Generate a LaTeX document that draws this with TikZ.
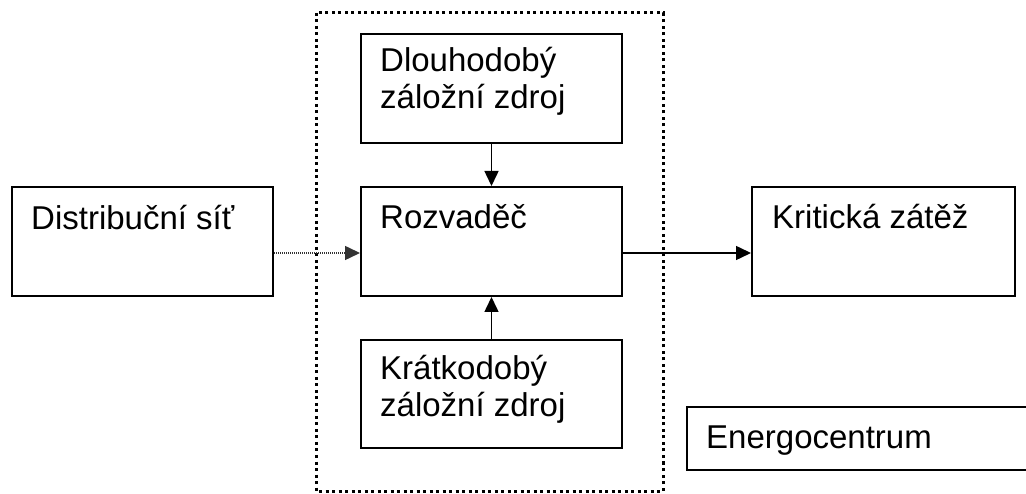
\documentclass[tikz,border=0pt]{standalone}
\usepackage{fontspec}
\setmainfont{Liberation Sans}
\usetikzlibrary{arrows.meta}

\begin{document}
\begin{tikzpicture}[
  x=1pt, y=1pt,
  blok/.style={draw,line width=2pt,anchor=north west,minimum width=#1,minimum height=109pt,inner sep=0pt},
  blok/.default=261pt,
  popis/.style={anchor=base west,inner sep=0pt,align=left,font=\fontsize{33}{37}\selectfont},
  sipka/.style={line width=1.5pt,-{Triangle[length=15pt,width=14pt]}},
  ramecek/.style={line width=3pt,dash pattern=on 3pt off 3.5pt}
  ]
\path[use as bounding box,clip] (0,0) rectangle (1026,493);
\def\yarrow{-11.5pt}
% energocentrum frame
\draw[ramecek] (316,480) rectangle (663,2);
\node[blok] (sit) at (11,307){};
\node[blok] (dlouho) at (360,460){};
\node[blok] (rozv) at (360,307){};
\node[blok,minimum height=108pt] (kratko) at (360,154){};
\node[blok=263pt] (krit) at (751,307){};
\node[blok=360pt,minimum height=63pt] (energo) at (686,87){};
\node[popis] (tsit) at ([xshift=20pt,yshift=-44pt]sit.north west) {Distribuční síť};
\node[popis] (tdlouho) at ([xshift=20pt,yshift=-76pt]dlouho.north west) {Dlouhodobý\\záložní zdroj};
\node[popis] (trozv) at ([xshift=20pt,yshift=-43pt]rozv.north west) {Rozvaděč};
\node[popis] (tkratko) at ([xshift=20pt,yshift=-78pt]kratko.north west) {Krátkodobý\\záložní zdroj};
\node[popis] (tkrit) at ([xshift=21pt,yshift=-43pt]krit.north west) {Kritická zátěž};
\node[popis] (tenergo) at ([xshift=20pt,yshift=-42pt]energo.north west) {Energocentrum};
\draw[sipka,draw=black!80,dash pattern=on 1pt off 1pt] ([yshift=\yarrow]sit.east) -- ([yshift=\yarrow]rozv.west);
\draw[sipka] ([yshift=\yarrow]rozv.east) -- ([yshift=\yarrow]krit.west);
\draw[sipka] (dlouho.south) -- (rozv.north);
\draw[sipka] (kratko.north) -- (rozv.south);
\end{tikzpicture}
\end{document}
